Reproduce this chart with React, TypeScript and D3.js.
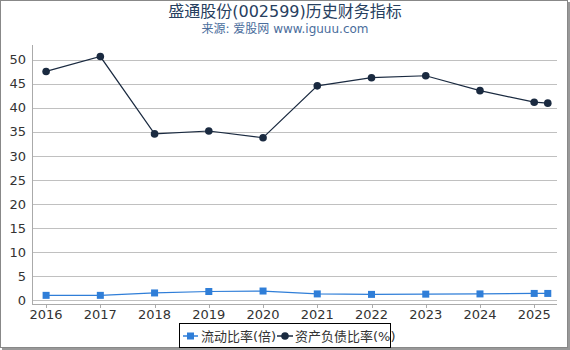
import { useEffect, useRef } from "react";
import * as d3 from "d3";

// x positions: year ticks, last point is a quarter into 2025
const periods = [2016, 2017, 2018, 2019, 2020, 2021, 2022, 2023, 2024, 2025, 2025.25];
const currentRatio = [1.0, 1.0, 1.5, 1.8, 1.9, 1.3, 1.2, 1.25, 1.3, 1.4, 1.4];
const debtRatio = [47.6, 50.7, 34.6, 35.2, 33.8, 44.6, 46.3, 46.7, 43.6, 41.2, 41.0];
const yearTicks = [2016, 2017, 2018, 2019, 2020, 2021, 2022, 2023, 2024, 2025];
const yTicks = [0, 5, 10, 15, 20, 25, 30, 35, 40, 45, 50];

const W = 570;
const H = 350;
const FONT = "'DejaVu Sans', 'Noto Sans CJK SC', sans-serif";
const BLUE = "#2f7ed8";
const NAVY = "#1a2a40";

export default function App() {
  const svgRef = useRef<SVGSVGElement | null>(null);

  useEffect(() => {
    const svg = svgRef.current;
    if (!svg) return;
    svg.innerHTML = "";
    const root = d3.select(svg);

    const left = 32;
    const right = 557;
    const top = 45;
    const bottom = 304;

    const x = d3.scaleLinear().domain([2015.74, 2025.42]).range([left, right]);
    const y = d3.scaleLinear().domain([-0.8, 53.1]).range([bottom, top]);

    // outer frame with a slight shadow on right/bottom
    root.append("rect").attr("x", 2).attr("y", 2).attr("width", W - 2).attr("height", H - 2).attr("fill", "#999");
    root.append("rect").attr("x", 0.5).attr("y", 0.5).attr("width", W - 3).attr("height", H - 3).attr("fill", "#fff").attr("stroke", "#888");

    root.append("text")
      .attr("x", 285).attr("y", 17)
      .attr("text-anchor", "middle")
      .attr("font-family", FONT).attr("font-size", 16)
      .attr("fill", "#274060")
      .text("盛通股份(002599)历史财务指标");
    root.append("text")
      .attr("x", 285).attr("y", 33)
      .attr("text-anchor", "middle")
      .attr("font-family", FONT).attr("font-size", 12)
      .attr("fill", "#4a6d9c")
      .text("来源: 爱股网 www.iguuu.com");

    // grid
    root.append("g")
      .selectAll("line")
      .data(yTicks)
      .join("line")
      .attr("x1", left).attr("x2", right)
      .attr("y1", (d) => Math.round(y(d)) + 0.5).attr("y2", (d) => Math.round(y(d)) + 0.5)
      .attr("stroke", "#c0c0c0");

    root.append("line")
      .attr("x1", left + 0.5).attr("x2", left + 0.5)
      .attr("y1", top).attr("y2", bottom)
      .attr("stroke", "#aaa");
    root.append("line")
      .attr("x1", left).attr("x2", right)
      .attr("y1", bottom + 0.5).attr("y2", bottom + 0.5)
      .attr("stroke", "#aaa");

    root.append("g")
      .selectAll("text")
      .data(yTicks)
      .join("text")
      .attr("x", left - 6).attr("y", (d) => y(d) + 4.5)
      .attr("text-anchor", "end")
      .attr("font-family", FONT).attr("font-size", 13)
      .attr("fill", "#333")
      .text((d) => d);

    root.append("g")
      .selectAll("line")
      .data(yearTicks)
      .join("line")
      .attr("x1", (d) => Math.round(x(d)) + 0.5).attr("x2", (d) => Math.round(x(d)) + 0.5)
      .attr("y1", bottom).attr("y2", bottom + 4)
      .attr("stroke", "#aaa");

    root.append("g")
      .selectAll("text")
      .data(yearTicks)
      .join("text")
      .attr("x", (d) => x(d)).attr("y", bottom + 15)
      .attr("text-anchor", "middle")
      .attr("font-family", FONT).attr("font-size", 13)
      .attr("fill", "#333")
      .text((d) => d);

    const line = d3.line<number>().x((_, i) => x(periods[i])).y((d) => y(d));

    root.append("path").attr("d", line(currentRatio)).attr("fill", "none").attr("stroke", BLUE).attr("stroke-width", 1.2);
    root.append("g")
      .selectAll("rect")
      .data(currentRatio)
      .join("rect")
      .attr("x", (_, i) => x(periods[i]) - 3.5).attr("y", (d) => y(d) - 3.5)
      .attr("width", 7).attr("height", 7)
      .attr("fill", BLUE);

    root.append("path").attr("d", line(debtRatio)).attr("fill", "none").attr("stroke", NAVY).attr("stroke-width", 1.2);
    root.append("g")
      .selectAll("circle")
      .data(debtRatio)
      .join("circle")
      .attr("cx", (_, i) => x(periods[i])).attr("cy", (d) => y(d))
      .attr("r", 3.8)
      .attr("fill", NAVY);

    // legend
    const lg = root.append("g");
    lg.append("rect").attr("x", 179.5).attr("y", 323.5).attr("width", 211).attr("height", 24).attr("fill", "#fff").attr("stroke", "#000");
    lg.append("line").attr("x1", 183).attr("x2", 198).attr("y1", 336).attr("y2", 336).attr("stroke", BLUE).attr("stroke-width", 1.5);
    lg.append("rect").attr("x", 187).attr("y", 332.5).attr("width", 7).attr("height", 7).attr("fill", BLUE);
    lg.append("text").attr("x", 201).attr("y", 341).attr("font-family", FONT).attr("font-size", 13).attr("fill", "#333").text("流动比率(倍)");
    lg.append("line").attr("x1", 277).attr("x2", 293).attr("y1", 336).attr("y2", 336).attr("stroke", NAVY).attr("stroke-width", 1.5);
    lg.append("circle").attr("cx", 285).attr("cy", 336).attr("r", 3.8).attr("fill", NAVY);
    lg.append("text").attr("x", 295).attr("y", 341).attr("font-family", FONT).attr("font-size", 13).attr("fill", "#333").text("资产负债比率(%)");
  }, []);

  return (
    <svg
      ref={svgRef}
      width={W}
      height={H}
      style={{ position: "absolute", left: 0, top: 0 }}
    />
  );
}
